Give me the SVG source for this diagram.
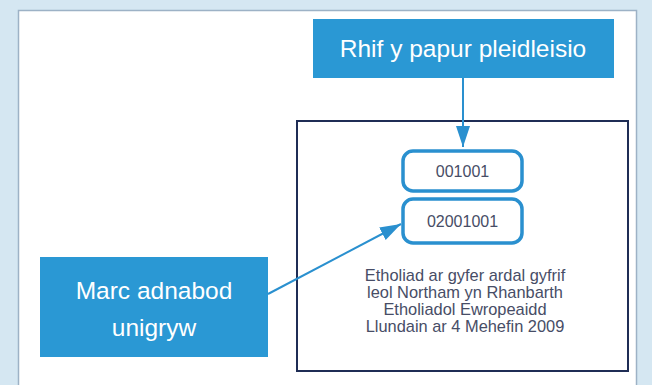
<svg xmlns="http://www.w3.org/2000/svg" width="652" height="385" viewBox="0 0 652 385">
<style>
.label{fill:#2a98d4}
.lt{font-family:"Liberation Sans",Arial,sans-serif;fill:#ffffff;text-anchor:middle}
.num{fill:#ffffff;stroke:#2a90cf;stroke-width:3.5}
.nt{font-family:"Liberation Sans",Arial,sans-serif;font-size:16px;fill:#474d66;text-anchor:middle}
.cap{font-size:16.4px}
.conn{stroke:#2a90cf;stroke-width:2;fill:none}
</style>
<defs>
<marker id="ah" markerUnits="userSpaceOnUse" markerWidth="22" markerHeight="14" refX="21" refY="7" orient="auto">
<path d="M0,0 L21,7 L0,14 Z" fill="#2a90cf"/>
</marker>
</defs>
<rect x="0" y="0" width="652" height="385" fill="#d5e7f2"/>
<rect x="18.5" y="10.5" width="618" height="385" fill="#ffffff" stroke="#9db2c6" stroke-width="1.5"/>
<g id="frame">
<rect x="297" y="121" width="331" height="250" fill="none" stroke="#1f2d55" stroke-width="2"/>
</g>
<g id="rhif">
<rect class="label" x="313" y="19" width="301" height="59"/>
<text class="lt" x="463" y="57" font-size="24.5">Rhif y papur pleidleisio</text>
</g>
<g id="marc">
<rect class="label" x="40" y="257" width="228" height="100"/>
<text class="lt" x="154" y="299" font-size="24.5">Marc adnabod</text>
<text class="lt" x="154" y="336" font-size="24.5">unigryw</text>
</g>
<g id="n001001">
<rect class="num" x="403" y="151" width="119" height="40" rx="10"/>
<text class="nt" x="462.5" y="176.5">001001</text>
</g>
<g id="n02001001">
<rect class="num" x="403" y="199" width="119" height="44" rx="10"/>
<text class="nt" x="462.5" y="227">02001001</text>
</g>
<g id="caption">
<text class="nt cap" x="465" y="281">Etholiad ar gyfer ardal gyfrif</text>
<text class="nt cap" x="465" y="298">leol Northam yn Rhanbarth</text>
<text class="nt cap" x="465" y="315">Etholiadol Ewropeaidd</text>
<text class="nt cap" x="465" y="332">Llundain ar 4 Mehefin 2009</text>
</g>
<g id="connectors">
<line class="conn" x1="463" y1="78" x2="463" y2="147" marker-end="url(#ah)"/>
<line class="conn" x1="268" y1="294" x2="401" y2="224" marker-end="url(#ah)"/>
</g>
</svg>
